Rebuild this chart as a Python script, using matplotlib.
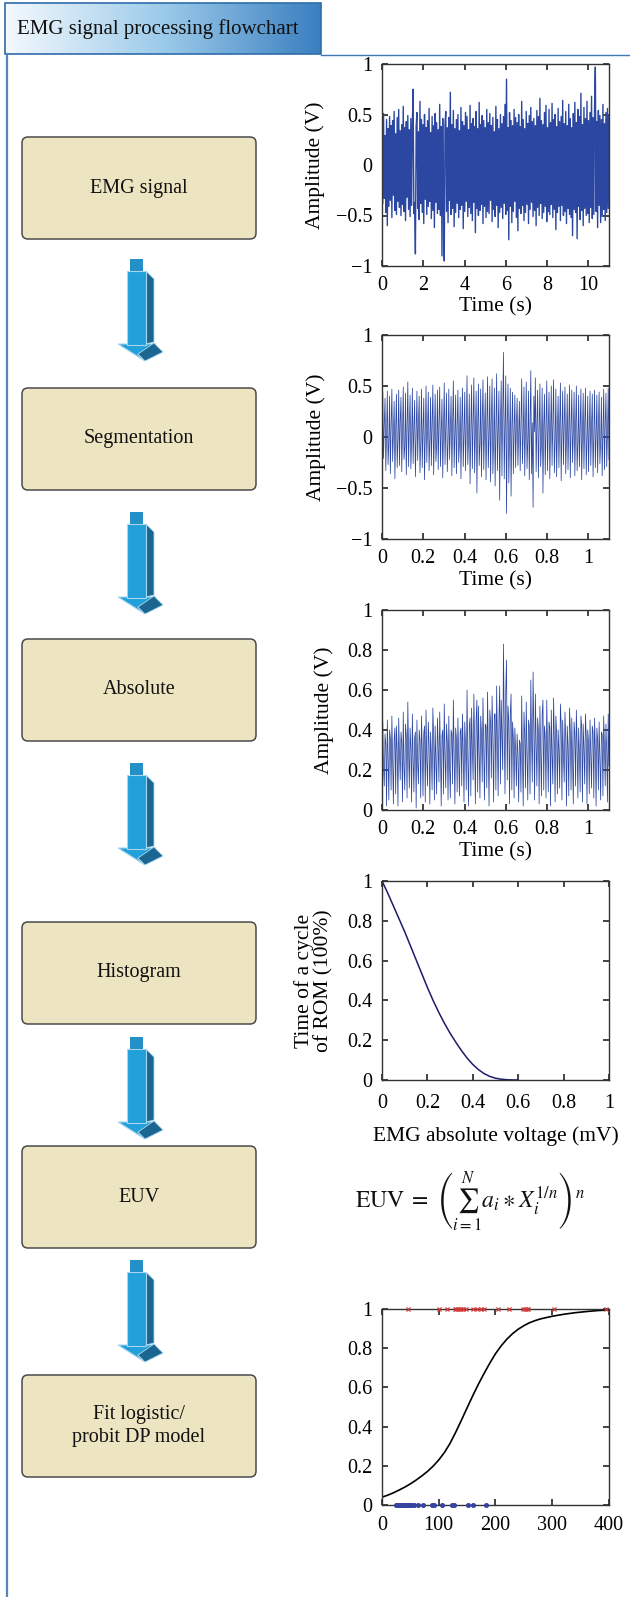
import numpy as np
import matplotlib
matplotlib.use("Agg")
import matplotlib.pyplot as plt
from matplotlib.patches import FancyBboxPatch, Polygon, Rectangle
from matplotlib.ticker import FuncFormatter
from matplotlib.colors import LinearSegmentedColormap

plt.rcParams['font.family'] = ['Liberation Serif', 'DejaVu Serif']
plt.rcParams['mathtext.fontset'] = 'stix'
plt.rcParams['axes.unicode_minus'] = True

# ---------------- data ----------------
title_text = "EMG signal processing flowchart"
steps = ["EMG signal", "Segmentation", "Absolute", "Histogram", "EUV",
         "Fit logistic/\nprobit DP model"]

raw_duration = 11.0
emg_raw = [
    0.42,-0.38,0.51,-0.33,0.29,-0.47,0.45,-0.60,0.36,-0.41,0.48,-0.35,0.39,-0.52,0.44,-0.30,0.53,-0.45,0.31,-0.49,
    0.47,-0.36,0.55,-0.42,0.34,-0.50,0.40,-0.39,0.58,-0.46,0.37,-0.55,0.43,-0.32,0.49,-0.44,0.35,-0.51,0.46,-0.40,
    0.41,0.75,-0.48,-0.37,-0.88,0.38,0.52,-0.43,0.33,-0.54,0.63,-0.38,0.45,-0.47,0.40,-0.58,0.50,-0.34,0.37,-0.49,
    0.44,-0.41,0.56,-0.36,0.32,-0.53,0.48,-0.45,0.39,-0.62,0.51,-0.37,0.42,-0.48,0.35,-0.44,0.60,-0.50,0.38,-0.90,
    0.46,-0.39,-0.95,0.41,0.53,-0.46,0.37,-0.57,0.47,-0.35,0.72,-0.49,0.40,-0.43,0.54,-0.61,0.36,-0.47,0.45,-0.38,
    0.50,-0.52,0.34,-0.44,0.57,-0.40,0.43,-0.63,0.39,-0.46,0.52,-0.36,0.48,-0.51,0.35,-0.42,0.59,-0.48,0.41,-0.55,
    0.46,-0.37,0.38,-0.67,0.53,-0.43,0.36,-0.50,0.62,-0.45,0.40,-0.39,0.49,-0.58,0.44,-0.41,0.37,-0.52,0.55,-0.46,
    0.42,-0.48,0.51,-0.35,0.39,-0.56,0.47,-0.44,0.33,-0.51,0.58,-0.40,0.45,-0.62,0.36,-0.47,0.50,-0.42,0.41,-0.53,
    0.48,-0.38,0.60,-0.49,0.85,-0.45,0.37,-0.74,0.52,-0.41,0.44,-0.57,0.39,-0.46,0.55,-0.36,0.47,-0.52,0.42,-0.65,
    0.50,-0.43,0.38,-0.48,0.63,-0.40,0.45,-0.55,0.36,-0.47,0.53,-0.39,0.41,-0.58,0.49,-0.44,0.57,-0.37,0.43,-0.51,
    0.46,-0.45,0.39,-0.60,0.54,-0.42,0.48,-0.50,0.66,-0.38,0.44,-0.53,0.40,-0.47,0.52,-0.41,0.59,-0.56,0.37,-0.46,
    0.55,-0.49,0.42,-0.39,0.61,-0.52,0.45,-0.44,0.50,-0.64,0.38,-0.47,0.56,-0.41,0.43,-0.55,0.48,-0.40,0.64,-0.50,
    0.41,-0.46,0.53,-0.58,0.39,-0.43,0.60,-0.49,0.46,-0.52,0.37,-0.70,0.51,-0.44,0.62,-0.47,0.42,-0.73,0.55,-0.41,
    0.48,-0.54,0.71,-0.45,0.40,-0.60,0.57,-0.43,0.46,-0.50,0.63,-0.48,0.44,-0.57,0.52,-0.42,0.68,-0.53,0.47,-0.49,
    0.58,0.97,-0.46,0.43,-0.62,0.54,-0.40,0.49,-0.57,0.45,-0.51,0.60,-0.44,0.41,-0.55,0.52,-0.47,0.56,-0.43,0.48,
]

seg_duration = 1.1
emg_segment = [
    0.05,0.44,-0.21,0.12,0.38,-0.33,0.02,0.45,-0.27,-0.05,0.40,-0.36,0.10,0.47,-0.24,0.03,0.35,-0.41,0.08,0.42,
    -0.30,-0.02,0.46,-0.28,0.15,0.39,-0.34,0.04,0.49,-0.22,-0.10,0.43,-0.37,0.06,0.54,-0.29,0.11,0.41,-0.31,-0.04,
    0.48,-0.26,0.09,0.36,-0.39,0.01,0.45,-0.23,0.13,0.40,-0.35,-0.06,0.47,-0.30,0.07,0.38,-0.42,0.04,0.50,-0.25,
    0.12,0.44,-0.33,-0.03,0.39,-0.28,0.10,0.51,-0.37,0.05,0.42,-0.24,-0.08,0.46,-0.32,0.14,0.49,-0.29,0.02,0.37,
    -0.40,0.08,0.53,-0.27,0.11,0.43,-0.34,-0.05,0.47,-0.22,0.06,0.40,-0.38,0.13,0.55,-0.30,0.03,0.41,-0.36,0.09,
    0.46,-0.25,-0.07,0.39,-0.41,0.12,0.48,-0.29,0.04,0.44,-0.33,0.10,0.60,-0.27,-0.02,0.42,-0.46,0.07,0.51,-0.31,
    0.15,0.58,-0.35,0.03,0.45,-0.55,0.09,0.52,-0.28,-0.06,0.47,-0.39,0.14,0.56,-0.32,0.05,0.43,-0.42,0.11,0.59,
    -0.30,0.02,0.50,-0.44,0.16,0.57,-0.36,-0.04,0.48,-0.48,0.10,0.62,-0.33,0.07,0.45,-0.62,0.13,0.55,-0.38,0.20,
    0.83,-0.41,0.08,0.60,-0.75,0.15,0.52,-0.45,-0.03,0.48,-0.58,0.10,0.44,-0.36,0.06,0.41,-0.30,0.12,0.38,-0.28,
    0.04,0.35,-0.33,0.09,0.57,-0.26,0.02,0.49,-0.38,0.11,0.54,-0.31,-0.05,0.45,-0.42,0.08,0.65,-0.36,0.14,-0.69,
    0.40,0.05,0.58,-0.34,0.12,0.46,-0.40,0.03,0.52,-0.29,-0.07,0.48,-0.55,0.10,0.42,-0.37,0.06,0.55,-0.33,0.09,
    0.44,-0.41,0.02,0.50,-0.28,0.13,0.56,-0.35,-0.04,0.47,-0.39,0.08,0.40,-0.30,0.11,0.53,-0.43,0.05,0.45,-0.27,
    0.14,0.49,-0.36,-0.02,0.42,-0.32,0.07,0.51,-0.40,0.10,0.46,-0.25,0.03,0.44,-0.38,0.12,0.50,-0.33,-0.06,0.41,
    -0.29,0.09,0.47,-0.42,0.04,0.43,-0.31,0.13,0.48,-0.37,-0.03,0.40,-0.34,0.08,0.45,-0.28,0.11,0.42,-0.39,0.06,
    0.46,-0.30,0.02,0.41,-0.35,0.10,0.44,-0.26,-0.05,0.39,-0.38,0.07,0.47,-0.32,0.12,0.43,-0.29,0.04,0.48,-0.22,
]

hist_voltage = [0, 0.025, 0.05, 0.075, 0.1, 0.125, 0.15, 0.175, 0.2, 0.225, 0.25, 0.275, 0.3,
                0.325, 0.35, 0.375, 0.4, 0.425, 0.45, 0.475, 0.5, 0.525, 0.55, 0.575, 0.6]
hist_time = [1.0, 0.94, 0.875, 0.81, 0.745, 0.675, 0.605, 0.535, 0.465, 0.40, 0.34, 0.285, 0.235,
             0.19, 0.148, 0.11, 0.078, 0.052, 0.032, 0.018, 0.009, 0.004, 0.0015, 0.0004, 0.0]

fit_x = [0, 10, 20, 30, 40, 50, 60, 70, 80, 90, 100, 110, 120, 130, 140, 150, 160, 170, 180,
         190, 200, 210, 220, 230, 240, 250, 260, 270, 280, 300, 320, 340, 360, 380, 400]
fit_p = [0.040, 0.050, 0.062, 0.076, 0.091, 0.108, 0.127, 0.148, 0.171, 0.198, 0.230, 0.268,
         0.315, 0.372, 0.433, 0.496, 0.558, 0.617, 0.672, 0.724, 0.772, 0.812, 0.846, 0.874,
         0.897, 0.915, 0.930, 0.941, 0.950, 0.963, 0.973, 0.981, 0.987, 0.992, 0.995]

pos_x = [46, 101, 114, 128, 131, 134, 137, 139, 142, 148, 161, 167, 174, 180, 205, 224, 249, 252, 255, 258, 303, 394]
neg_x = [24, 26, 28, 30, 32, 34, 36, 38, 40, 42, 44, 46, 48, 50, 53, 56, 63, 72, 88, 92, 105, 123, 126, 152, 161, 183]

# ---------------- figure ----------------
W, H = 630, 1597
fig = plt.figure(figsize=(W / 100, H / 100), dpi=100)
bg = fig.add_axes([0, 0, 1, 1])
bg.set_axis_off()

# title box with gradient
grad = np.linspace(0, 1, 256).reshape(1, -1)
tcmap = LinearSegmentedColormap.from_list('t', ['#f4f9fd', '#9ccbea', '#3a7fc0'])
bg.imshow(grad, extent=(5, 321, 54, 3), aspect='auto', cmap=tcmap, zorder=1)
bg.add_patch(Rectangle((5, 3), 316, 51, fill=False, edgecolor='#2f6dab', lw=1.2, zorder=2))
bg.text(17, 29, title_text, fontsize=15, va='center', ha='left', color='#111111', zorder=3)
bg.plot([321, W], [54.5, 54.5], color='#3c79b5', lw=1.0, zorder=2)
bg.plot([6.5, 6.5], [54, H], color='#5686b6', lw=1.6, zorder=2)

# boxes
box_tops = [137, 388, 639, 922, 1146, 1375]
box_h = 102
for top, label in zip(box_tops, steps):
    bg.add_patch(FancyBboxPatch((22, top), 234, box_h,
                                boxstyle="round,pad=0,rounding_size=6",
                                facecolor='#ede5c1', edgecolor='#4a4a4a', lw=1.1, zorder=2))
    bg.text(139, top + box_h / 2, label, fontsize=14.5, ha='center', va='center',
            linespacing=1.35, color='#111111', zorder=3)

# arrows
def draw_arrow(y0):
    front = '#21a0da'
    dark = '#1b6690'
    edge = '#a9d5ee'
    bg.add_patch(Polygon([(146, y0 + 12), (154, y0 + 20), (154, y0 + 83), (146, y0 + 85)],
                         closed=True, facecolor=dark, edgecolor=edge, lw=0.6, zorder=3))
    bg.add_patch(Polygon([(118, y0 + 85), (156, y0 + 85), (138, y0 + 95), (145, y0 + 102)],
                         closed=True, facecolor=front, edgecolor=edge, lw=0.8, zorder=3))
    bg.add_patch(Polygon([(138, y0 + 95), (154, y0 + 84), (163, y0 + 93), (145, y0 + 102)],
                         closed=True, facecolor=dark, edgecolor=edge, lw=0.6, zorder=4))
    bg.add_patch(Rectangle((127, y0 + 12), 19, 74, facecolor=front, edgecolor=edge, lw=0.8, zorder=5))
    bg.add_patch(Rectangle((130, y0), 13, 12, facecolor='#2390c8', edgecolor='none', zorder=5))

for y0 in [259, 512, 763, 1037, 1260]:
    draw_arrow(y0)

# formula
bg.text(470, 1202, r'$\mathrm{EUV}\;=\;\left(\sum_{i=1}^{N}a_i\ast X_i^{1/n}\right)^{n}$',
        fontsize=17, ha='center', va='center', color='#111111', zorder=3)

bg.set_xlim(0, W)
bg.set_ylim(H, 0)

# ---------------- plot axes ----------------
def rect(l, t, r, b):
    return [l / W, 1 - b / H, (r - l) / W, (b - t) / H]

fmt = FuncFormatter(lambda v, p: ('%g' % round(v, 6)).replace('-', '\u2212'))
LAB = 15.5
TICK = 14.5

def style(ax, xpad=7):
    for s in ax.spines.values():
        s.set_color('#333333')
        s.set_linewidth(1.0)
    ax.tick_params(direction='in', top=True, right=True, length=4, width=1.1,
                   color='#111111', labelsize=TICK)
    ax.tick_params(axis='y', pad=7)
    ax.tick_params(axis='x', pad=xpad)
    ax.xaxis.set_major_formatter(fmt)
    ax.yaxis.set_major_formatter(fmt)
    ax.set_facecolor('none')

sig_color = '#2c47a2'

# plot 1: raw EMG
ax1 = fig.add_axes(rect(382, 64, 609, 266))
style(ax1)
t_raw = np.arange(len(emg_raw)) * (raw_duration / (len(emg_raw) - 1))
ax1.plot(t_raw, emg_raw, color=sig_color, lw=1.0)
ax1.set_xlim(0, 11)
ax1.set_ylim(-1, 1)
ax1.set_xticks([0, 2, 4, 6, 8, 10])
ax1.set_yticks([-1, -0.5, 0, 0.5, 1])
ax1.set_xlabel('Time (s)', fontsize=LAB, va='center')
ax1.set_ylabel('Amplitude (V)', fontsize=LAB, va='center')
ax1.xaxis.set_label_coords(0.5, -0.2)
ax1.yaxis.set_label_coords(-0.295, 0.5)

# plot 2: segmentation
ax2 = fig.add_axes(rect(382, 335, 609, 539))
style(ax2)
t_seg = np.arange(len(emg_segment)) * (seg_duration / (len(emg_segment) - 1))
ax2.plot(t_seg, emg_segment, color=sig_color, lw=0.55)
ax2.set_xlim(0, 1.1)
ax2.set_ylim(-1, 1)
ax2.set_xticks([0, 0.2, 0.4, 0.6, 0.8, 1.0])
ax2.set_yticks([-1, -0.5, 0, 0.5, 1])
ax2.set_xlabel('Time (s)', fontsize=LAB, va='center')
ax2.set_ylabel('Amplitude (V)', fontsize=LAB, va='center')
ax2.xaxis.set_label_coords(0.5, -0.205)
ax2.yaxis.set_label_coords(-0.29, 0.5)

# plot 3: absolute
ax3 = fig.add_axes(rect(382, 610, 609, 810))
style(ax3)
ax3.plot(t_seg, np.abs(np.array(emg_segment)), color=sig_color, lw=0.55)
ax3.set_xlim(0, 1.1)
ax3.set_ylim(0, 1)
ax3.set_xticks([0, 0.2, 0.4, 0.6, 0.8, 1.0])
ax3.set_yticks([0, 0.2, 0.4, 0.6, 0.8, 1.0])
ax3.set_xlabel('Time (s)', fontsize=LAB, va='center')
ax3.set_ylabel('Amplitude (V)', fontsize=LAB, va='center')
ax3.xaxis.set_label_coords(0.5, -0.21)
ax3.yaxis.set_label_coords(-0.255, 0.5)

# plot 4: histogram curve
ax4 = fig.add_axes(rect(382, 881, 609, 1080))
style(ax4, xpad=10)
ax4.plot(hist_voltage, hist_time, color='#1c1c6b', lw=1.1)
ax4.set_xlim(0, 1)
ax4.set_ylim(0, 1)
ax4.set_xticks([0, 0.2, 0.4, 0.6, 0.8, 1.0])
ax4.set_yticks([0, 0.2, 0.4, 0.6, 0.8, 1.0])
ax4.set_xlabel('EMG absolute voltage (mV)', fontsize=LAB, va='center')
ax4.set_ylabel('Time of a cycle\nof ROM (100%)', fontsize=LAB, va='center', linespacing=1.0)
ax4.xaxis.set_label_coords(0.5, -0.28)
ax4.yaxis.set_label_coords(-0.3, 0.5)

# plot 6: logistic fit
ax6 = fig.add_axes(rect(382, 1309, 609, 1505))
style(ax6, xpad=8)
ax6.plot(fit_x, fit_p, color='black', lw=1.2)
ax6.plot(pos_x, [1] * len(pos_x), linestyle='none', marker='x', ms=3.5, mew=0.9,
         color='#d23a3a', clip_on=False, zorder=5)
ax6.plot(neg_x, [0] * len(neg_x), linestyle='none', marker='o', ms=3, mew=0.6,
         color='#3644a0', clip_on=False, zorder=5)
ax6.set_xlim(0, 400)
ax6.set_ylim(0, 1)
ax6.set_xticks([0, 100, 200, 300, 400])
ax6.set_yticks([0, 0.2, 0.4, 0.6, 0.8, 1.0])

fig.savefig('out.png', dpi=100)
